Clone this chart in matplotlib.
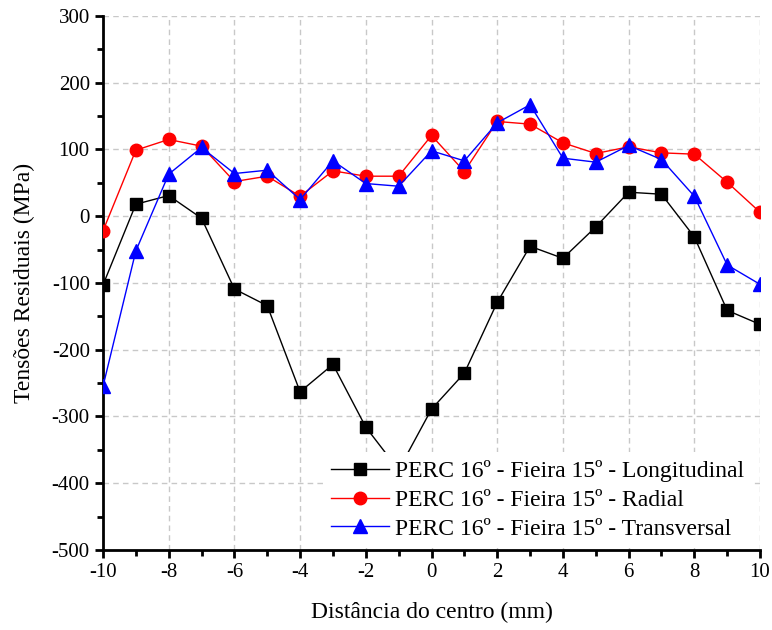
import matplotlib
matplotlib.use("Agg")
import matplotlib.pyplot as plt
from matplotlib.ticker import MultipleLocator

plt.rcParams['font.family'] = ['Liberation Serif', 'DejaVu Serif']
plt.rcParams['axes.unicode_minus'] = False

x = [-10, -9, -8, -7, -6, -5, -4, -3, -2, -1, 0, 1, 2, 3, 4, 5, 6, 7, 8, 9, 10]
longitudinal = [-103, 18, 31, -3, -109, -134, -263, -222, -316, -380, -289, -235,
                -129, -45, -63, -16, 36, 33, -31, -141, -162]
radial = [-22, 99, 115, 105, 52, 60, 30, 68, 60, 60, 121, 67,
          142, 138, 110, 94, 104, 95, 93, 51, 6]
transversal = [-255, -52, 63, 103, 64, 69, 25, 83, 49, 45, 98, 83,
               140, 167, 87, 81, 106, 85, 30, -73, -102]
labels = ["PERC 16º - Fieira 15º - Longitudinal",
          "PERC 16º - Fieira 15º - Radial",
          "PERC 16º - Fieira 15º - Transversal"]

fig = plt.figure(figsize=(7.72, 6.3), dpi=100)
ax = fig.add_axes([0.1334, 0.127, 0.8511, 0.8476])

ax.plot(x, longitudinal, color='black', marker='s', markersize=8, lw=1, label=labels[0], zorder=3)
ax.plot(x, radial, color='red', marker='o', markersize=9, lw=1, label=labels[1], zorder=3)
ax.plot(x, transversal, color='blue', marker='^', markersize=9.5, lw=1, label=labels[2], zorder=3)

ax.set_xlim(-10, 10)
ax.set_ylim(-500, 300)
ax.xaxis.set_major_locator(MultipleLocator(2))
ax.xaxis.set_minor_locator(MultipleLocator(1))
ax.yaxis.set_major_locator(MultipleLocator(100))
ax.yaxis.set_minor_locator(MultipleLocator(50))

ax.grid(True, which='major', linestyle=(0, (4, 3)), color='#c8c8c8', lw=1)
ax.set_axisbelow(True)

for s in ['top', 'right']:
    ax.spines[s].set_visible(False)
for s in ['left', 'bottom']:
    ax.spines[s].set_linewidth(2)

ax.tick_params(which='major', direction='out', length=6, width=2, labelsize=15)
ax.tick_params(which='minor', direction='out', length=4, width=2)

ax.set_xlabel("Distância do centro (mm)", fontsize=17, labelpad=14)
ax.set_ylabel("Tensões Residuais (MPa)", fontsize=17, labelpad=12)

leg = ax.legend(loc='lower right', bbox_to_anchor=(0.988, 0.004), frameon=True,
                fancybox=False, fontsize=17, handlelength=2.45,
                borderaxespad=0.0, borderpad=0.35, labelspacing=0.3,
                handletextpad=0.25)
leg.get_frame().set_facecolor('white')
leg.get_frame().set_edgecolor('none')
leg.get_frame().set_alpha(1)

fig.savefig("out.png", dpi=100)
